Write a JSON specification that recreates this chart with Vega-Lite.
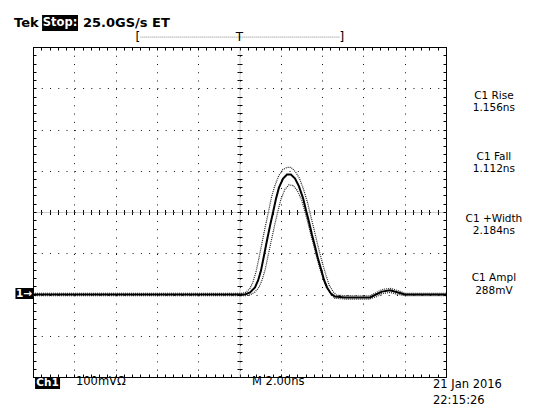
{
  "$schema": "https://vega.github.io/schema/vega-lite/v6.json",
  "width": 413,
  "height": 330,
  "autosize": {"type": "none"},
  "padding": {"left": 33, "top": 47, "right": 99, "bottom": 41},
  "background": "white",
  "config": {
    "view": {"stroke": "black", "strokeWidth": 1},
    "font": "DejaVu Sans",
    "text": {"font": "DejaVu Sans"}
  },
  "datasets": {
    "trace": [
      {"t": -10, "v": 0}, {"t": -8, "v": 0}, {"t": -6, "v": 0}, {"t": -4, "v": 0}, {"t": -2, "v": 0},
      {"t": 0, "v": 0}, {"t": 0.27, "v": 0}, {"t": 0.51, "v": 5}, {"t": 0.75, "v": 17}, {"t": 0.9, "v": 34},
      {"t": 1.04, "v": 58}, {"t": 1.19, "v": 95}, {"t": 1.33, "v": 131}, {"t": 1.48, "v": 167}, {"t": 1.62, "v": 198},
      {"t": 1.77, "v": 233}, {"t": 1.91, "v": 259}, {"t": 2.11, "v": 281}, {"t": 2.3, "v": 291}, {"t": 2.49, "v": 291},
      {"t": 2.69, "v": 281}, {"t": 2.88, "v": 262}, {"t": 3.08, "v": 233}, {"t": 3.22, "v": 204}, {"t": 3.37, "v": 175},
      {"t": 3.51, "v": 145}, {"t": 3.66, "v": 116}, {"t": 3.8, "v": 87}, {"t": 3.95, "v": 61}, {"t": 4.09, "v": 36},
      {"t": 4.24, "v": 17}, {"t": 4.43, "v": 2}, {"t": 4.62, "v": -5}, {"t": 5.11, "v": -7}, {"t": 5.84, "v": -7},
      {"t": 6.32, "v": -7}, {"t": 6.61, "v": 0}, {"t": 6.9, "v": 7}, {"t": 7.29, "v": 10}, {"t": 7.68, "v": 5},
      {"t": 8.01, "v": 0}, {"t": 8.74, "v": 0}, {"t": 10, "v": 0}
    ],
    "hi": [
      {"t": -10, "v": 3}, {"t": 0.1, "v": 3}, {"t": 0.3, "v": 5}, {"t": 0.5, "v": 14}, {"t": 0.65, "v": 30},
      {"t": 0.8, "v": 55}, {"t": 0.95, "v": 90}, {"t": 1.1, "v": 128}, {"t": 1.25, "v": 165}, {"t": 1.4, "v": 200},
      {"t": 1.55, "v": 236}, {"t": 1.7, "v": 262}, {"t": 1.9, "v": 288}, {"t": 2.1, "v": 303}, {"t": 2.3, "v": 308},
      {"t": 2.5, "v": 308}, {"t": 2.7, "v": 298}, {"t": 2.9, "v": 282}, {"t": 3.1, "v": 255}, {"t": 3.3, "v": 222},
      {"t": 3.45, "v": 190}, {"t": 3.6, "v": 160}, {"t": 3.75, "v": 128}, {"t": 3.9, "v": 98}, {"t": 4.05, "v": 70},
      {"t": 4.2, "v": 45}, {"t": 4.35, "v": 22}, {"t": 4.55, "v": 6}, {"t": 4.7, "v": -2}, {"t": 5.5, "v": -3},
      {"t": 6.3, "v": -3}, {"t": 6.6, "v": 4}, {"t": 6.9, "v": 12}, {"t": 7.3, "v": 15}, {"t": 7.7, "v": 9},
      {"t": 8.0, "v": 3}, {"t": 10, "v": 3}
    ],
    "lo": [
      {"t": -10, "v": -3}, {"t": 0.3, "v": -3}, {"t": 0.5, "v": -1}, {"t": 0.75, "v": 6}, {"t": 0.95, "v": 18},
      {"t": 1.1, "v": 36}, {"t": 1.25, "v": 62}, {"t": 1.4, "v": 98}, {"t": 1.55, "v": 133}, {"t": 1.7, "v": 168},
      {"t": 1.85, "v": 200}, {"t": 2.0, "v": 230}, {"t": 2.2, "v": 255}, {"t": 2.4, "v": 266}, {"t": 2.6, "v": 264},
      {"t": 2.8, "v": 252}, {"t": 3.0, "v": 230}, {"t": 3.15, "v": 204}, {"t": 3.3, "v": 176}, {"t": 3.45, "v": 146},
      {"t": 3.6, "v": 117}, {"t": 3.75, "v": 88}, {"t": 3.9, "v": 62}, {"t": 4.05, "v": 38}, {"t": 4.2, "v": 18},
      {"t": 4.4, "v": 3}, {"t": 4.6, "v": -9}, {"t": 5.1, "v": -11}, {"t": 6.3, "v": -11}, {"t": 6.65, "v": -5},
      {"t": 6.9, "v": 2}, {"t": 7.3, "v": 5}, {"t": 7.7, "v": 0}, {"t": 8.0, "v": -3}, {"t": 10, "v": -3}
    ],
    "meas": [
      {"t": 12.32, "v": 481.2, "text": "C1 Rise"}, {"t": 12.32, "v": 451.4, "text": "1.156ns"},
      {"t": 12.32, "v": 333.3, "text": "C1 Fall"}, {"t": 12.32, "v": 303.5, "text": "1.112ns"},
      {"t": 12.32, "v": 184.2, "text": "C1 +Width"}, {"t": 12.32, "v": 154.4, "text": "2.184ns"},
      {"t": 12.32, "v": 38.8, "text": "C1 Ampl"}, {"t": 12.32, "v": 9.0, "text": "288mV"}
    ],
    "header": [
      {"t": -10.92, "v": 658, "text": "Tek"},
      {"t": -7.58, "v": 658, "text": "25.0GS/s ET"}
    ],
    "footer": [
      {"t": -7.92, "v": -212, "text": "100mVΩ"},
      {"t": 0.605, "v": -212, "text": "M 2.00ns"},
      {"t": 9.37, "v": -219, "text": "21 Jan 2016"},
      {"t": 9.37, "v": -258, "text": "22:15:26"}
    ],
    "boxes": [
      {"t": -9.56, "t2": -7.82, "v": 677.6, "v2": 638.8},
      {"t": -9.9, "t2": -8.69, "v": -200, "v2": -229},
      {"t": -10.85, "t2": -10.0, "v": 15.8, "v2": -10.9}
    ],
    "boxtext": [
      {"t": -8.69, "v": 658, "text": "Stop:"}
    ],
    "smallbox": [
      {"t": -9.3, "v": -214, "text": "Ch1"},
      {"t": -10.43, "v": 2.4, "text": "1→"}
    ],
    "bracket": [
      {"t": -4.92, "v": 624, "text": "["},
      {"t": 0, "v": 624, "text": "T"},
      {"t": 4.96, "v": 624, "text": "]"}
    ],
    "bracketline": [
      {"t": -4.8, "t2": 4.85, "v": 624}
    ]
  },
  "resolve": {"axis": {"x": "independent", "y": "independent"}},
  "layer": [
    {
      "data": {"name": "lo"},
      "mark": {"type": "line", "color": "#222", "strokeWidth": 1.2, "strokeDash": [1, 1]},
      "encoding": {
        "x": {"field": "t", "type": "quantitative", "scale": {"domain": [-10, 10], "nice": false, "zero": false},
          "axis": {"orient": "bottom", "values": [-10, -8, -6, -4, -2, 0, 2, 4, 6, 8, 10], "grid": true, "gridDash": [1, 7.26], "gridColor": "#111", "gridOpacity": 1, "gridWidth": 1, "ticks": false, "labels": false, "domain": false, "title": null}},
        "y": {"field": "v", "type": "quantitative", "scale": {"domain": [-200, 600], "nice": false, "zero": false},
          "axis": {"orient": "left", "values": [-200, -100, 0, 100, 200, 300, 400, 500, 600], "grid": true, "gridDash": [1, 7.26], "gridColor": "#111", "gridOpacity": 1, "gridWidth": 1, "ticks": false, "labels": false, "domain": false, "title": null}}
      }
    },
    {
      "data": {"name": "hi"},
      "mark": {"type": "line", "color": "#222", "strokeWidth": 1.2, "strokeDash": [1, 1]},
      "encoding": {
        "x": {"field": "t", "type": "quantitative", "scale": {"domain": [-10, 10], "nice": false, "zero": false},
          "axis": {"orient": "bottom", "values": [-10, -9.6, -9.2, -8.8, -8.4, -8, -7.6, -7.2, -6.8, -6.4, -6, -5.6, -5.2, -4.8, -4.4, -4, -3.6, -3.2, -2.8, -2.4, -2, -1.6, -1.2, -0.8, -0.4, 0, 0.4, 0.8, 1.2, 1.6, 2, 2.4, 2.8, 3.2, 3.6, 4, 4.4, 4.8, 5.2, 5.6, 6, 6.4, 6.8, 7.2, 7.6, 8, 8.4, 8.8, 9.2, 9.6, 10], "grid": false, "ticks": true, "tickSize": -3, "tickColor": "black", "labels": false, "domain": false, "title": null}},
        "y": {"field": "v", "type": "quantitative", "scale": {"domain": [-200, 600], "nice": false, "zero": false},
          "axis": {"orient": "left", "values": [-200, -180, -160, -140, -120, -100, -80, -60, -40, -20, 0, 20, 40, 60, 80, 100, 120, 140, 160, 180, 200, 220, 240, 260, 280, 300, 320, 340, 360, 380, 400, 420, 440, 460, 480, 500, 520, 540, 560, 580, 600], "grid": false, "ticks": true, "tickSize": -3, "tickColor": "black", "labels": false, "domain": false, "title": null}}
      }
    },
    {
      "data": {"name": "trace"},
      "mark": {"type": "line", "color": "black", "strokeWidth": 2},
      "encoding": {
        "x": {"field": "t", "type": "quantitative", "scale": {"domain": [-10, 10], "nice": false, "zero": false},
          "axis": {"orient": "top", "values": [-10, -9.6, -9.2, -8.8, -8.4, -8, -7.6, -7.2, -6.8, -6.4, -6, -5.6, -5.2, -4.8, -4.4, -4, -3.6, -3.2, -2.8, -2.4, -2, -1.6, -1.2, -0.8, -0.4, 0, 0.4, 0.8, 1.2, 1.6, 2, 2.4, 2.8, 3.2, 3.6, 4, 4.4, 4.8, 5.2, 5.6, 6, 6.4, 6.8, 7.2, 7.6, 8, 8.4, 8.8, 9.2, 9.6, 10], "grid": false, "ticks": true, "tickSize": -3, "tickColor": "black", "labels": false, "domain": false, "title": null}},
        "y": {"field": "v", "type": "quantitative", "scale": {"domain": [-200, 600], "nice": false, "zero": false},
          "axis": {"orient": "right", "values": [-200, -180, -160, -140, -120, -100, -80, -60, -40, -20, 0, 20, 40, 60, 80, 100, 120, 140, 160, 180, 200, 220, 240, 260, 280, 300, 320, 340, 360, 380, 400, 420, 440, 460, 480, 500, 520, 540, 560, 580, 600], "grid": false, "ticks": true, "tickSize": -3, "tickColor": "black", "labels": false, "domain": false, "title": null}}
      }
    },
    {
      "data": {"name": "meas"},
      "mark": {"type": "text", "align": "center", "baseline": "middle", "fontSize": 10.5, "color": "black"},
      "encoding": {
        "x": {"field": "t", "type": "quantitative", "scale": {"domain": [-10, 10], "nice": false, "zero": false},
          "axis": {"orient": "bottom", "offset": -165, "values": [-10, -9.6, -9.2, -8.8, -8.4, -8, -7.6, -7.2, -6.8, -6.4, -6, -5.6, -5.2, -4.8, -4.4, -4, -3.6, -3.2, -2.8, -2.4, -2, -1.6, -1.2, -0.8, -0.4, 0, 0.4, 0.8, 1.2, 1.6, 2, 2.4, 2.8, 3.2, 3.6, 4, 4.4, 4.8, 5.2, 5.6, 6, 6.4, 6.8, 7.2, 7.6, 8, 8.4, 8.8, 9.2, 9.6, 10], "grid": false, "ticks": true, "tickSize": 2.5, "tickColor": "black", "labels": false, "domain": true, "domainColor": "#999", "domainDash": [1, 1], "domainWidth": 1, "title": null}},
        "y": {"field": "v", "type": "quantitative", "scale": {"domain": [-200, 600], "nice": false, "zero": false},
          "axis": {"orient": "left", "offset": -206.5, "values": [-200, -180, -160, -140, -120, -100, -80, -60, -40, -20, 0, 20, 40, 60, 80, 100, 120, 140, 160, 180, 200, 220, 240, 260, 280, 300, 320, 340, 360, 380, 400, 420, 440, 460, 480, 500, 520, 540, 560, 580, 600], "grid": false, "ticks": true, "tickSize": 2.5, "tickColor": "black", "labels": false, "domain": true, "domainColor": "#999", "domainDash": [1, 1], "domainWidth": 1, "title": null}},
        "text": {"field": "text", "type": "nominal"}
      }
    },
    {
      "data": {"name": "footer"},
      "mark": {"type": "text", "align": "left", "baseline": "middle", "fontSize": 11.5, "color": "black"},
      "encoding": {
        "x": {"field": "t", "type": "quantitative", "scale": {"domain": [-10, 10], "nice": false, "zero": false},
          "axis": {"orient": "bottom", "offset": -165, "values": [-10, -9.6, -9.2, -8.8, -8.4, -8, -7.6, -7.2, -6.8, -6.4, -6, -5.6, -5.2, -4.8, -4.4, -4, -3.6, -3.2, -2.8, -2.4, -2, -1.6, -1.2, -0.8, -0.4, 0, 0.4, 0.8, 1.2, 1.6, 2, 2.4, 2.8, 3.2, 3.6, 4, 4.4, 4.8, 5.2, 5.6, 6, 6.4, 6.8, 7.2, 7.6, 8, 8.4, 8.8, 9.2, 9.6, 10], "grid": false, "ticks": true, "tickSize": -2.5, "tickColor": "black", "labels": false, "domain": false, "title": null}},
        "y": {"field": "v", "type": "quantitative", "scale": {"domain": [-200, 600], "nice": false, "zero": false},
          "axis": {"orient": "left", "offset": -206.5, "values": [-200, -180, -160, -140, -120, -100, -80, -60, -40, -20, 0, 20, 40, 60, 80, 100, 120, 140, 160, 180, 200, 220, 240, 260, 280, 300, 320, 340, 360, 380, 400, 420, 440, 460, 480, 500, 520, 540, 560, 580, 600], "grid": false, "ticks": true, "tickSize": -2.5, "tickColor": "black", "labels": false, "domain": false, "title": null}},
        "text": {"field": "text", "type": "nominal"}
      }
    },
    {
      "data": {"name": "header"},
      "mark": {"type": "text", "align": "left", "baseline": "middle", "fontSize": 13, "fontWeight": "bold", "color": "black"},
      "encoding": {
        "x": {"field": "t", "type": "quantitative", "scale": {"domain": [-10, 10], "nice": false, "zero": false}, "axis": null},
        "y": {"field": "v", "type": "quantitative", "scale": {"domain": [-200, 600], "nice": false, "zero": false}, "axis": null},
        "text": {"field": "text", "type": "nominal"}
      }
    },
    {
      "data": {"name": "boxes"},
      "mark": {"type": "rect", "color": "black"},
      "encoding": {
        "x": {"field": "t", "type": "quantitative", "scale": {"domain": [-10, 10], "nice": false, "zero": false}, "axis": null},
        "x2": {"field": "t2"},
        "y": {"field": "v", "type": "quantitative", "scale": {"domain": [-200, 600], "nice": false, "zero": false}, "axis": null},
        "y2": {"field": "v2"}
      }
    },
    {
      "data": {"name": "boxtext"},
      "mark": {"type": "text", "align": "center", "baseline": "middle", "fontSize": 11.5, "fontWeight": "bold", "color": "white"},
      "encoding": {
        "x": {"field": "t", "type": "quantitative", "scale": {"domain": [-10, 10], "nice": false, "zero": false}, "axis": null},
        "y": {"field": "v", "type": "quantitative", "scale": {"domain": [-200, 600], "nice": false, "zero": false}, "axis": null},
        "text": {"field": "text", "type": "nominal"}
      }
    },
    {
      "data": {"name": "smallbox"},
      "mark": {"type": "text", "align": "center", "baseline": "middle", "fontSize": 10.5, "fontWeight": "bold", "color": "white"},
      "encoding": {
        "x": {"field": "t", "type": "quantitative", "scale": {"domain": [-10, 10], "nice": false, "zero": false}, "axis": null},
        "y": {"field": "v", "type": "quantitative", "scale": {"domain": [-200, 600], "nice": false, "zero": false}, "axis": null},
        "text": {"field": "text", "type": "nominal"}
      }
    },
    {
      "data": {"name": "bracketline"},
      "mark": {"type": "rule", "color": "#888", "strokeWidth": 1, "strokeDash": [1, 1]},
      "encoding": {
        "x": {"field": "t", "type": "quantitative", "scale": {"domain": [-10, 10], "nice": false, "zero": false}, "axis": null},
        "x2": {"field": "t2"},
        "y": {"field": "v", "type": "quantitative", "scale": {"domain": [-200, 600], "nice": false, "zero": false}, "axis": null}
      }
    },
    {
      "data": {"name": "bracket"},
      "mark": {"type": "text", "align": "center", "baseline": "middle", "fontSize": 12, "color": "black"},
      "encoding": {
        "x": {"field": "t", "type": "quantitative", "scale": {"domain": [-10, 10], "nice": false, "zero": false}, "axis": null},
        "y": {"field": "v", "type": "quantitative", "scale": {"domain": [-200, 600], "nice": false, "zero": false}, "axis": null},
        "text": {"field": "text", "type": "nominal"}
      }
    }
  ]
}
